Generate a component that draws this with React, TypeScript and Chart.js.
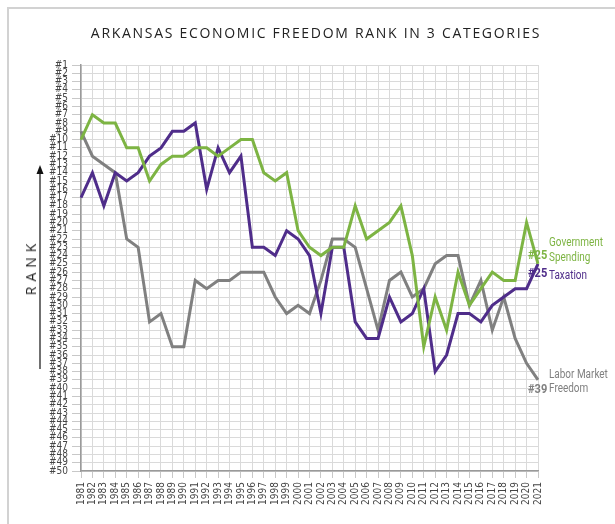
import React, { useEffect, useRef } from 'react';
import { Chart, registerables } from 'chart.js';

Chart.register(...registerables);

const years = [
  '1981','1982','1983','1984','1985','1986','1987','1988','1989','1990',
  '1991','1992','1993','1994','1995','1996','1997','1998','1999','2000',
  '2001','2002','2003','2004','2005','2006','2007','2008','2009','2010',
  '2011','2012','2013','2014','2015','2016','2017','2018','2019','2020','2021',
];

const rankTicks = Array.from({ length: 50 }, (_, i) => i + 1);

const govSpending = [
  10, 7, 8, 8, 11, 11, 15, 13, 12, 12,
  11, 11, 12, 11, 10, 10, 14, 15, 14, 21,
  23, 24, 23, 23, 18, 22, 21, 20, 18, 24,
  35, 29, 33, 26, 30, 28, 26, 27, 27, 20, 25,
];

const taxation = [
  17, 14, 18, 14, 15, 14, 12, 11, 9, 9,
  8, 16, 11, 14, 12, 23, 23, 24, 21, 22,
  24, 31, 23, 23, 32, 34, 34, 29, 32, 31,
  28, 38, 36, 31, 31, 32, 30, 29, 28, 28, 25,
];

const laborMarket = [
  9, 12, 13, 14, 22, 23, 32, 31, 35, 35,
  27, 28, 27, 27, 26, 26, 26, 29, 31, 30,
  31, 27, 22, 22, 23, 28, 33, 27, 26, 29,
  28, 25, 24, 24, 30, 27, 33, 29, 34, 37, 39,
];

const GREEN = '#7db443';
const PURPLE = '#4f2d8a';
const GRAY = '#808080';
const FONT = "'Liberation Sans Narrow', 'Arial Narrow', 'DejaVu Sans Condensed', 'Open Sans', sans-serif";
const LABEL_FONT = "Roboto, 'Open Sans', sans-serif";

function condensedText(ctx: CanvasRenderingContext2D, text: string, x: number, y: number, font: string, sx: number) {
  ctx.save();
  ctx.font = font;
  ctx.translate(x, y);
  ctx.scale(sx, 1);
  ctx.fillText(text, 0, 0);
  ctx.restore();
}

const annotationPlugin = {
  id: 'endLabels',
  afterDraw(chart: any) {
    const ctx = chart.ctx as CanvasRenderingContext2D;
    const xs = chart.scales.x;
    const ys = chart.scales.y;
    const last = years.length - 1;
    const px = xs.getPixelForValue(last);
    const bold = `bold 13px ${LABEL_FONT}`;
    const reg = `12px ${LABEL_FONT}`;
    ctx.save();
    ctx.textAlign = 'left';
    ctx.textBaseline = 'middle';

    // Government Spending
    const gy = ys.getPixelForValue(govSpending[last]);
    ctx.fillStyle = GREEN;
    condensedText(ctx, '#' + govSpending[last], px - 10, gy - 8, bold, 0.85);
    condensedText(ctx, 'Government', px + 11, gy - 21, reg, 0.83);
    condensedText(ctx, 'Spending', px + 11, gy - 6, reg, 0.83);

    // Taxation
    const ty = ys.getPixelForValue(taxation[last]);
    ctx.fillStyle = PURPLE;
    condensedText(ctx, '#' + taxation[last], px - 10, ty + 10, bold, 0.85);
    condensedText(ctx, 'Taxation', px + 11, ty + 12, reg, 0.83);

    // Labor Market Freedom
    const ly = ys.getPixelForValue(laborMarket[last]);
    ctx.fillStyle = GRAY;
    condensedText(ctx, 'Labor Market', px + 11, ly - 5, reg, 0.83);
    condensedText(ctx, 'Freedom', px + 11, ly + 9, reg, 0.83);
    condensedText(ctx, '#' + laborMarket[last], px - 10, ly + 10, bold, 0.85);

    // Arrow next to RANK
    ctx.strokeStyle = '#111';
    ctx.fillStyle = '#111';
    ctx.lineWidth = 1.2;
    ctx.beginPath();
    ctx.moveTo(40, 369);
    ctx.lineTo(40, 172);
    ctx.stroke();
    ctx.beginPath();
    ctx.moveTo(40, 165);
    ctx.lineTo(36.5, 174);
    ctx.lineTo(43.5, 174);
    ctx.closePath();
    ctx.fill();
    ctx.restore();
  },
};

export default function App() {
  const canvasRef = useRef<HTMLCanvasElement | null>(null);

  useEffect(() => {
    if (!canvasRef.current) return;
    const chart = new Chart(canvasRef.current, {
      type: 'line',
      data: {
        labels: years,
        datasets: [
          {
            label: 'Government Spending',
            data: govSpending,
            borderColor: GREEN,
            backgroundColor: GREEN,
            borderWidth: 3,
            pointRadius: 0,
            tension: 0,
          },
          {
            label: 'Taxation',
            data: taxation,
            borderColor: PURPLE,
            backgroundColor: PURPLE,
            borderWidth: 3,
            pointRadius: 0,
            tension: 0,
          },
          {
            label: 'Labor Market Freedom',
            data: laborMarket,
            borderColor: GRAY,
            backgroundColor: GRAY,
            borderWidth: 3,
            pointRadius: 0,
            tension: 0,
          },
        ],
      },
      options: {
        animation: false,
        responsive: false,
        maintainAspectRatio: false,
        layout: { padding: { left: 31, right: 77, top: 65, bottom: 8 } },
        plugins: {
          legend: { display: false },
          tooltip: { enabled: false },
          title: { display: false },
        },
        scales: {
          x: {
            type: 'category',
            offset: false,
            grid: { color: '#dadada', lineWidth: 1, tickLength: 7, tickColor: '#c8c8c8' },
            border: { color: '#9a9a9a', width: 1.5 },
            ticks: {
              autoSkip: false,
              minRotation: 90,
              maxRotation: 90,
              padding: 4,
              color: '#444',
              font: { family: FONT, size: 10 },
            },
            afterFit: (s: any) => { s.height = 45; },
          },
          y: {
            type: 'linear',
            reverse: true,
            min: 1,
            max: 50,
            afterBuildTicks: (s: any) => { s.ticks = rankTicks.map((v) => ({ value: v })); },
            grid: { color: '#dadada', lineWidth: 1, tickLength: 9, tickColor: '#c8c8c8' },
            border: { color: '#9a9a9a', width: 1.5 },
            ticks: {
              autoSkip: false,
              padding: 4,
              color: '#444',
              font: { family: FONT, size: 10 },
              callback: (v: any) => '#' + v,
            },
            afterFit: (s: any) => { s.width = 50; },
          },
        },
      },
      plugins: [annotationPlugin],
    });
    return () => chart.destroy();
  }, []);

  return (
    <div style={{ position: 'absolute', left: 0, top: 0, width: 615, height: 524, background: '#fff', overflow: 'hidden' }}>
      <div style={{ position: 'absolute', left: 7, top: 7, width: 608, height: 517, borderTop: '2px solid #d2d2d2', borderLeft: '2px solid #d2d2d2', boxSizing: 'border-box' }} />
      <canvas ref={canvasRef} width={615} height={524} style={{ position: 'absolute', left: 0, top: 0, width: 615, height: 524 }} />
      <div style={{ position: 'absolute', left: 0, top: 23, width: 632, textAlign: 'center', fontFamily: "'Open Sans', sans-serif", fontSize: 14, lineHeight: '20px', letterSpacing: '1.7px', color: '#222', whiteSpace: 'nowrap' }}>
        ARKANSAS ECONOMIC FREEDOM RANK IN 3 CATEGORIES
      </div>
      <div style={{ position: 'absolute', left: 31, top: 267, transform: 'translate(-50%, -50%) rotate(-90deg)', fontFamily: "'Open Sans', sans-serif", fontSize: 14, lineHeight: '18px', letterSpacing: '5px', color: '#222', whiteSpace: 'nowrap' }}>
        RANK
      </div>
    </div>
  );
}
